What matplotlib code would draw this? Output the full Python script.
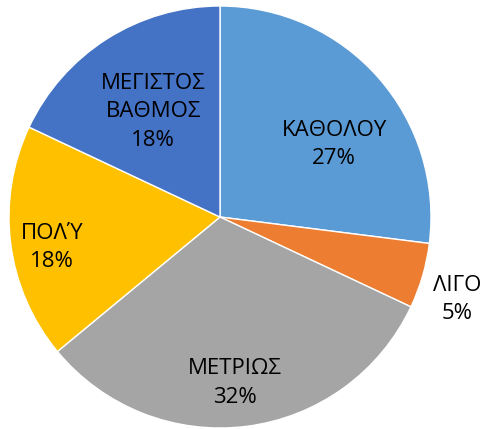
import matplotlib
matplotlib.use("Agg")
import matplotlib.pyplot as plt
import numpy as np

plt.rcParams['font.family'] = ['Open Sans', 'DejaVu Sans']

# data
labels = ['ΚΑΘΟΛΟΥ', 'ΛΙΓΟ', 'ΜΕΤΡΙΩΣ', 'ΠΟΛΎ', 'ΜΕΓΙΣΤΟΣ\nΒΑΘΜΟΣ']
values = [27, 5, 32, 18, 18]
colors = ['#5B9BD5', '#ED7D31', '#A5A5A5', '#FFC000', '#4472C4']
# label placement: distance from centre and angle shift (deg)
label_dist = [0.64, 1.19, 0.79, 0.81, 0.59]
label_shift = [-9, -3, -2, 3, 0]

fig = plt.figure(figsize=(4.83, 4.29), dpi=100)
cx, cy, r = 220, 429 - 217, 211
ax = fig.add_axes([(cx - r) / 483, (cy - r) / 429, 2 * r / 483, 2 * r / 429])

wedges, _ = ax.pie(values, colors=colors, startangle=90, counterclock=False,
                   radius=1, wedgeprops=dict(edgecolor='white', linewidth=1.0))
ax.set_xlim(-1, 1)
ax.set_ylim(-1, 1)
ax.set_aspect('equal')
ax.axis('off')

total = sum(values)
for w, lab, v, d, s in zip(wedges, labels, values, label_dist, label_shift):
    ang = np.deg2rad((w.theta1 + w.theta2) / 2 + s)
    ax.text(d * np.cos(ang), d * np.sin(ang), f'{lab}\n{round(100 * v / total)}%',
            ha='center', va='center', fontsize=16, linespacing=1.45, color='black')

fig.savefig('out.png', dpi=100)
